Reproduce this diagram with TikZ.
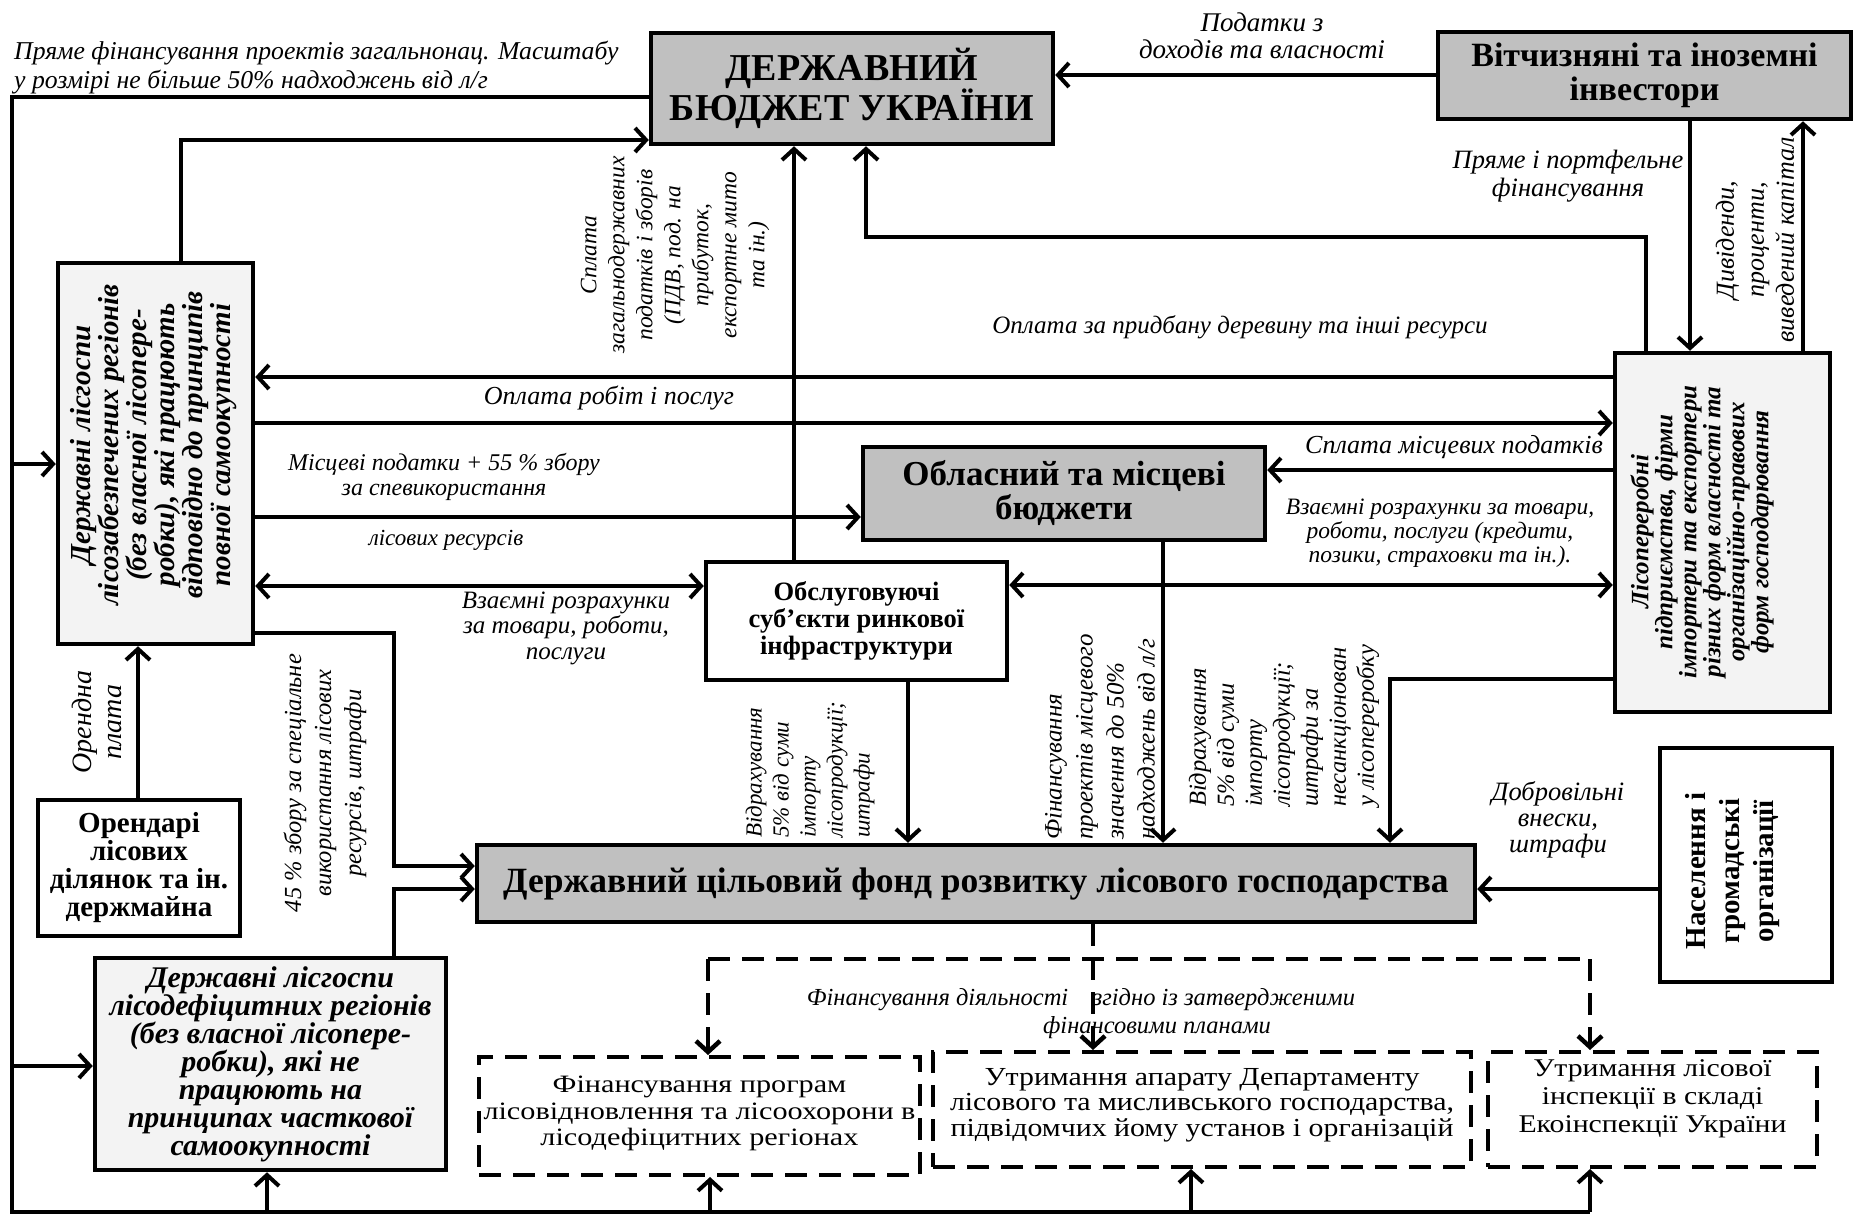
\documentclass[tikz,border=0pt]{standalone}
\usepackage{fontspec}
\usepackage{graphicx}
\setmainfont{Liberation Serif}
\usetikzlibrary{arrows.meta}
\definecolor{boxgray}{HTML}{C0C0C0}
\definecolor{lightfill}{HTML}{F3F3F3}
\newcommand\fz[2]{\fontsize{#1pt}{#2pt}\selectfont}
\newcommand\fitlines[2]{\resizebox{#1}{\height}{\begin{tabular}{@{}c@{}}#2\end{tabular}}}
\begin{document}
\begin{tikzpicture}[x=1pt,y=-1pt,
  ln/.style={line width=4pt},
  arr/.style={ln,-{Straight Barb[length=11pt,width=24pt]}},
  darr/.style={ln,{Straight Barb[length=11pt,width=24pt]}-{Straight Barb[length=11pt,width=24pt]}},
  dln/.style={line width=4.5pt,dash pattern=on 22pt off 12pt},
  boxbase/.style={draw,line width=4.5pt,inner sep=0pt,align=center},
  gbox/.style={boxbase,fill=boxgray},
  lbox/.style={boxbase,fill=lightfill},
  wbox/.style={boxbase,fill=white},
  dbox/.style={draw,line width=4pt,dash pattern=on 22pt off 12pt,inner sep=0pt,align=center,fill=white},
  dtext/.style={inner sep=0pt,align=center},
  lab/.style={inner sep=0pt,align=center,font={\fz{25}{25}\itshape}},
  rlab/.style={lab,rotate=90}
]
\fill[white] (0,0) rectangle (1854,1216);
\useasboundingbox (0,0) rectangle (1854,1216);

% ---------- boxes ----------
\node[gbox,minimum width=402pt,minimum height=111pt,font={\fz{38}{37}\bfseries}] (budget) at (852,88.5) {ДЕРЖАВНИЙ\\БЮДЖЕТ УКРАЇНИ};
\node[gbox,minimum width=413pt,minimum height=87pt,font={\fz{34}{34}\bfseries}] (invest) at (1644.5,75.5) {Вітчизняні та іноземні\\інвестори};
\node[lbox,minimum width=195pt,minimum height=381pt] (lesA) at (155.5,453.5) {};
\node[lbox,minimum width=215pt,minimum height=359pt] (proc) at (1722.5,532.5) {};
\node[gbox,minimum width=402pt,minimum height=93pt,font={\fz{35}{34}\bfseries}] (oblast) at (1064,493.5) {Обласний та місцеві\\бюджети};
\node[wbox,minimum width=301pt,minimum height=118pt,font={\fz{26.5}{27}\bfseries}] (obsl) at (856.5,621) {Обслуговуючі\\суб’єкти ринкової\\інфраструктури};
\node[wbox,minimum width=202pt,minimum height=136pt,font={\fz{29}{28}\bfseries}] (orend) at (139,868) {Орендарі\\лісових\\ділянок та ін.\\держмайна};
\node[gbox,minimum width=998pt,minimum height=77pt,font={\fz{35.5}{36}\bfseries}] (fund) at (976,883.5) {Державний цільовий фонд розвитку лісового господарства};
\node[wbox,minimum width=172pt,minimum height=234pt] (nasel) at (1746,865) {};
\node[lbox,minimum width=351pt,minimum height=212pt,font={\fz{30}{28}\bfseries\itshape}] (lesB) at (270.5,1064) {Державні лісгоспи\\лісодефіцитних регіонів\\(без власної лісопере-\\робки), які не\\працюють на\\принципах часткової\\самоокупності};
\node[dbox,minimum width=441pt,minimum height=118pt] (d1) at (699.5,1116) {};
\node[dbox,minimum width=538pt,minimum height=115pt] (d2) at (1202,1109.5) {};
\node[dbox,minimum width=329pt,minimum height=115pt] (d3) at (1652.5,1109.5) {};
\node[dtext,font={\fz{25}{26.5}}] (d1t) at (699.5,1114) {\fitlines{432pt}{Фінансування програм\\лісовідновлення та лісоохорони в\\лісодефіцитних регіонах}};
\node[dtext,font={\fz{26}{25}}] (d2t) at (1202,1106) {\fitlines{504pt}{Утримання апарату Департаменту\\лісового та мисливського господарства,\\підвідомчих йому установ і організацій}};
\node[dtext,font={\fz{25.5}{28}}] (d3t) at (1652.5,1099) {\fitlines{268pt}{Утримання лісової\\інспекції в складі\\Екоінспекції України}};

% rotated box texts
\node[rotate=90,inner sep=0pt,align=center,font={\fz{29}{28}\bfseries\itshape}] (lesAt) at (154,445) {Державні лісгоспи\\лісозабезпечених регіонів\\(без власної лісопере-\\робки), які працюють\\відповідно до принципів\\повної самоокупності};
\node[rotate=90,inner sep=0pt,align=center,font={\fz{25}{24}\bfseries\itshape}] (proct) at (1702,532) {Лісопереробні\\підприємства, фірми\\імпортери та експортери\\різних форм власності та\\організаційно-правових\\форм господарювання};
\node[rotate=90,inner sep=0pt,align=center,font={\fz{29}{34}\bfseries}] (naselt) at (1733,871) {Населення і\\громадські\\організації};

% ---------- connectors ----------
\draw[arr] (invest.west |- 0,75) -- (budget.east |- 0,75);
\draw[ln] (budget.west |- 0,97) -- (12,97) -- (12,1212) -- (1590,1212);
\draw[arr] (12,464) -- (lesA.west |- 0,464);
\draw[arr] (12,1066) -- (lesB.west |- 0,1066);
\draw[arr] (267,1212) -- (lesB.south -| 267,0);
\draw[arr] (710,1212) -- (d1.south -| 710,0);
\draw[arr] (1191,1212) -- (d2.south -| 1191,0);
\draw[arr] (1590,1212) -- (d3.south -| 1590,0);

\draw[arr] (lesA.north -| 181,0) -- (181,140) -- (budget.west |- 0,140);
\draw[arr] (obsl.north -| 794,0) -- (budget.south -| 794,0);
\draw[arr] (proc.north -| 1646,0) -- (1646,237) -- (866,237) -- (budget.south -| 866,0);
\draw[arr] (invest.south -| 1690,0) -- (proc.north -| 1690,0);
\draw[arr] (proc.north -| 1803,0) -- (invest.south -| 1803,0);

\draw[arr] (proc.west |- 0,377) -- (lesA.east |- 0,377);
\draw[arr] (lesA.east |- 0,423) -- (proc.west |- 0,423);
\draw[arr] (lesA.east |- 0,517) -- (oblast.west |- 0,517);
\draw[darr] (lesA.east |- 0,586) -- (obsl.west |- 0,586);
\draw[arr] (proc.west |- 0,470) -- (oblast.east |- 0,470);
\draw[darr] (obsl.east |- 0,585) -- (proc.west |- 0,585);

\draw[arr] (lesA.east |- 0,633) -- (394,633) -- (394,866) -- (fund.west |- 0,866);
\draw[arr] (lesB.north -| 394,0) -- (394,889) -- (fund.west |- 0,889);
\draw[arr] (orend.north -| 138,0) -- (lesA.south -| 138,0);
\draw[arr] (obsl.south -| 908,0) -- (fund.north -| 908,0);
\draw[arr] (oblast.south -| 1163,0) -- (fund.north -| 1163,0);
\draw[arr] (proc.west |- 0,679) -- (1390,679) -- (fund.north -| 1390,0);
\draw[arr] (nasel.west |- 0,889) -- (fund.east |- 0,889);

\draw[dln,-{Straight Barb[length=11pt,width=24pt]}] (fund.south -| 1093,0) -- (d2.north -| 1093,0);
\draw[dln] (708,959) -- (1590,959);
\draw[dln,-{Straight Barb[length=11pt,width=24pt]}] (708,959) -- (d1.north -| 708,0);
\draw[dln,-{Straight Barb[length=11pt,width=24pt]}] (1590,959) -- (d3.north -| 1590,0);

% ---------- labels ----------
\node[lab,anchor=west,align=left,font={\fz{25.7}{29}\itshape}] (l1) at (14,67.5) {Пряме фінансування проектів загальнонац. Масштабу\\ у розмірі не більше 50\% надходжень від л/г};
\node[lab,font={\fz{27}{27}\itshape}] (l2) at (1262,36) {Податки з\\доходів та власності};
\node[rlab,font={\fz{23.5}{28}\itshape}] (l3) at (675,255) {Сплата\\загальнодержавних\\податків і зборів\\(ПДВ, под. на\\прибуток,\\експортне мито\\та ін.)};
\node[lab] (l4) at (1240,327) {Оплата за придбану деревину та інші ресурси};
\node[lab,font={\fz{26.5}{28}\itshape}] (l5) at (1568,176) {Пряме і портфельне\\фінансування};
\node[rlab,font={\fz{26}{30}\itshape}] (l6) at (1755,240) {Дивіденди,\\проценти,\\виведений капітал};
\node[lab,font={\fz{26}{26}\itshape}] (l7) at (609,398) {Оплата робіт і послуг};
\node[lab,font={\fz{24}{25}\itshape}] (l8) at (444,477) {Місцеві податки + 55 \% збору\\за спевикористання};
\node[lab,font={\fz{23}{25}\itshape}] (l9) at (446,540) {лісових ресурсів};
\node[lab,font={\fz{25}{25.5}\itshape}] (l10) at (566,628) {Взаємні розрахунки\\за товари, роботи,\\послуги};
\node[lab,font={\fz{26}{26}\itshape}] (l11) at (1454,447) {Сплата місцевих податків};
\node[lab,font={\fz{23.5}{24}\itshape}] (l12) at (1440,533) {Взаємні розрахунки за товари,\\роботи, послуги (кредити,\\позики, страховки та ін.).};
\node[rlab,font={\fz{28}{30}\itshape}] (l13) at (97,722) {Орендна\\плата};
\node[rlab,font={\fz{24.5}{30}\itshape}] (l14) at (325,783) {45 \% збору за спеціальне\\використання лісових\\ресурсів, штрафи};
\node[rlab,anchor=west,align=left,font={\fz{23}{27}\itshape}] (l15) at (810,838) {Відрахування\\5\% від суми\\імпорту\\лісопродукції;\\штрафи};
\node[rlab,anchor=west,align=left,font={\fz{25}{31}\itshape}] (l16) at (1100,840) {Фінансування\\проектів місцевого\\значення до 50\%\\надходжень від л/г};
\node[rlab,anchor=west,align=left,font={\fz{24.5}{28}\itshape}] (l17) at (1284,807) {Відрахування\\5\% від суми\\імпорту\\лісопродукції;\\штрафи за\\несанкціонован\\у лісопереробку};
\node[lab,font={\fz{26.5}{26}\itshape}] (l18) at (1558,820) {Добровільні\\внески,\\штрафи};
\node[lab,font={\fz{24.5}{24}\itshape}] (l19) at (1081,1000) {Фінансування діяльності\quad згідно із затвердженими};
\node[lab,font={\fz{24.5}{24}\itshape}] (l20) at (1157,1028) {фінансовими планами};
\end{tikzpicture}
\end{document}
